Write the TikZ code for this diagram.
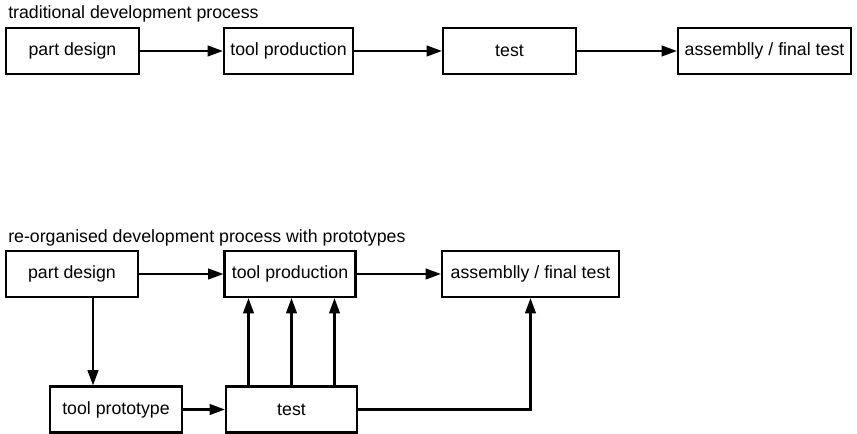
\documentclass[tikz,border=0pt]{standalone}
\usepackage{fontspec}
\setmainfont{Liberation Sans}
\usetikzlibrary{arrows.meta,positioning}

\begin{document}
\begin{tikzpicture}[
      x=0.75pt, y=-0.75pt,
      box/.style={draw, line width=1.6pt, inner sep=1pt, align=center,
        minimum height=34.5pt, font=\fontsize{13.3}{16}\selectfont},
      title/.style={anchor=base west, inner sep=0pt, font=\fontsize{13.3}{16}\selectfont},
      arrow/.style={-{Triangle[length=11.5pt,width=8pt]}, line width=1.6pt}
    ]
    \useasboundingbox (0,0) rectangle (857,434);
    % traditional process
    \node[title] (trad) at (8,18.5) {traditional development process};
    \node[box, minimum width=99.75pt] (part) at (72.5,51) {part design};
    \node[box, minimum width=96.75pt] (tool) at (288.5,51) {tool production};
    \node[box, minimum width=99.75pt] (test) at (509.5,51) {test};
    \node[box, minimum width=129.75pt] (assy) at (764.5,51) {assemblly / final test};
    \draw[arrow] (part) -- (tool);
    \draw[arrow] (tool) -- (test);
    \draw[arrow] (test) -- (assy);
    % re-organised process
    \node[title] (reorg) at (8,243) {re-organised development process with prototypes};
    \node[box, minimum width=99pt] (partB) at (72,274) {part design};
    \node[box, minimum width=98.25pt] (toolB) at (290,274) {tool production};
    \node[box, minimum width=132.75pt] (assyB) at (530.5,274) {assemblly / final test};
    \node[box, minimum width=99pt] (protoB) at (116,409.5) {tool prototype};
    \node[box, minimum width=98.25pt] (testB) at (291.5,409.5) {test};
    \draw[arrow] (partB) -- (toolB);
    \draw[arrow] (toolB) -- (assyB);
    \draw[arrow] ([xshift=15.75pt]partB.south) -- ([xshift=15.75pt]partB.south |- protoB.north);
    \draw[arrow] (protoB) -- (testB);
    \foreach \dx in {-32.25,0,32.25}
      \draw[arrow] ([xshift=\dx pt]testB.north) -- ([xshift=\dx pt]testB.north |- toolB.south);
    \draw[arrow] (testB.east) -| (assyB.south);
  \end{tikzpicture}
\end{document}
